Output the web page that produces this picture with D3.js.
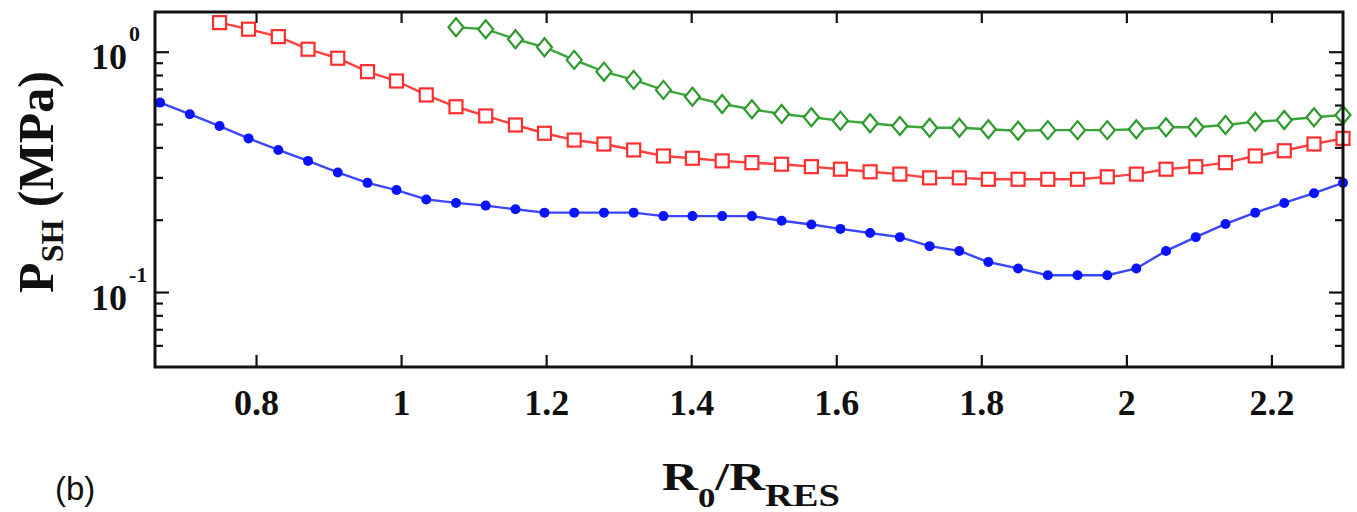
<!DOCTYPE html>
<html>
<head>
<meta charset="utf-8">
<script src="https://cdn.jsdelivr.net/npm/d3@7"></script>
<style>
  html, body { margin: 0; padding: 0; background: #fff; }
  svg { display: block; }
  .serif { font-family: "Liberation Serif", "Times New Roman", serif; font-weight: bold; fill: #111; }
</style>
</head>
<body>
<div id="chart"></div>
<script>
// R0/RES values shared by all three curves
const ratio = [0.667, 0.708, 0.749, 0.789, 0.830, 0.871, 0.912, 0.953, 0.993, 1.034,
  1.075, 1.116, 1.157, 1.197, 1.238, 1.279, 1.320, 1.361, 1.401, 1.442,
  1.483, 1.524, 1.565, 1.605, 1.646, 1.687, 1.728, 1.769, 1.809, 1.850,
  1.891, 1.932, 1.973, 2.013, 2.054, 2.095, 2.136, 2.177, 2.217, 2.258, 2.298];

// P_SH in MPa (null = not computed)
const blueP = [0.617, 0.552, 0.493, 0.438, 0.392, 0.353, 0.316, 0.286, 0.267, 0.244,
  0.236, 0.230, 0.222, 0.215, 0.215, 0.215, 0.215, 0.208, 0.208, 0.208,
  0.208, 0.199, 0.192, 0.184, 0.177, 0.170, 0.156, 0.149, 0.134, 0.126,
  0.118, 0.118, 0.118, 0.126, 0.149, 0.170, 0.193, 0.215, 0.236, 0.259, 0.286];
const redP = [null, null, 1.328, 1.247, 1.161, 1.029, 0.944, 0.830, 0.759, 0.664,
  0.593, 0.543, 0.498, 0.460, 0.431, 0.415, 0.392, 0.370, 0.362, 0.353,
  0.347, 0.342, 0.334, 0.326, 0.318, 0.311, 0.300, 0.300, 0.296, 0.296,
  0.296, 0.296, 0.303, 0.311, 0.326, 0.334, 0.347, 0.370, 0.389, 0.415, 0.438];
const greenP = [null, null, null, null, null, null, null, null, null, null,
  1.271, 1.247, 1.133, 1.049, 0.929, 0.830, 0.767, 0.697, 0.653, 0.609,
  0.579, 0.553, 0.536, 0.519, 0.506, 0.493, 0.485, 0.485, 0.478, 0.471,
  0.474, 0.474, 0.474, 0.478, 0.487, 0.487, 0.498, 0.514, 0.522, 0.536, 0.548];

const xTicks = [0.8, 1, 1.2, 1.4, 1.6, 1.8, 2, 2.2];
const xTickLabels = ['0.8', '1', '1.2', '1.4', '1.6', '1.8', '2', '2.2'];
const yMajor = [0.1, 1];
const yMajorExp = ['-1', '0'];
const yMinor = [0.06, 0.07, 0.08, 0.09, 0.2, 0.3, 0.4, 0.5, 0.6, 0.7, 0.8, 0.9];

const W = 1357, H = 512;
const box = { left: 155, right: 1343, top: 12, bottom: 367 };

const svg = d3.select('#chart').append('svg')
  .attr('width', W).attr('height', H)
  .attr('viewBox', [0, 0, W, H]);

const x = d3.scaleLinear().domain([0.66, 2.298]).range([box.left, box.right]);
const y = d3.scaleLog().domain([0.049, 1.47]).range([box.bottom, box.top]);

// -- ticks (all pointing inward, mirrored on every side) --
const tickG = svg.append('g').attr('stroke', '#111').attr('stroke-width', 2.2);
tickG.selectAll('line.xb').data(xTicks).enter().append('line')
  .attr('x1', d => x(d)).attr('x2', d => x(d))
  .attr('y1', box.bottom).attr('y2', box.bottom - 12);
tickG.selectAll('line.xt').data(xTicks).enter().append('line')
  .attr('x1', d => x(d)).attr('x2', d => x(d))
  .attr('y1', box.top).attr('y2', box.top + 11);

const yTickRows = yMajor.map(v => ({ v, len: 14 })).concat(yMinor.map(v => ({ v, len: 8 })));
tickG.selectAll('line.yl').data(yTickRows).enter().append('line')
  .attr('x1', box.left).attr('x2', d => box.left + d.len)
  .attr('y1', d => y(d.v)).attr('y2', d => y(d.v));
tickG.selectAll('line.yr').data(yTickRows).enter().append('line')
  .attr('x1', box.right).attr('x2', d => box.right - d.len)
  .attr('y1', d => y(d.v)).attr('y2', d => y(d.v));

// -- series --
const series = [
  { vals: greenP, color: '#2e9a2e', line: '#3aa53a', kind: 'diamond' },
  { vals: redP, color: '#ff2e2e', line: '#ff4040', kind: 'square' },
  { vals: blueP, color: '#0a14ff', line: '#3a46ff', kind: 'dot' },
];

const line = d3.line()
  .defined(d => d[1] != null)
  .x(d => x(d[0])).y(d => y(d[1]));

for (const s of series) {
  const pts = ratio.map((r, i) => [r, s.vals[i]]);
  svg.append('path')
    .datum(pts)
    .attr('fill', 'none')
    .attr('stroke', s.line)
    .attr('stroke-width', 2.4)
    .attr('d', line);

  const mk = svg.append('g').selectAll('g')
    .data(pts.filter(p => p[1] != null))
    .enter().append('g')
    .attr('transform', d => `translate(${x(d[0])},${y(d[1])})`);

  if (s.kind === 'dot') {
    mk.append('circle').attr('r', 5).attr('fill', s.color);
  } else if (s.kind === 'square') {
    mk.append('rect')
      .attr('x', -6.5).attr('y', -6.5).attr('width', 13).attr('height', 13)
      .attr('fill', '#fff').attr('stroke', s.color).attr('stroke-width', 2.2);
  } else {
    mk.append('path')
      .attr('d', 'M0,-9L7.5,0L0,9L-7.5,0Z')
      .attr('fill', '#fff').attr('stroke', s.color).attr('stroke-width', 2.2);
  }
}

// -- frame --
svg.append('rect')
  .attr('x', box.left).attr('y', box.top)
  .attr('width', box.right - box.left).attr('height', box.bottom - box.top)
  .attr('fill', 'none').attr('stroke', '#111').attr('stroke-width', 3);

// -- tick labels --
svg.selectAll('text.xl').data(xTicks).enter().append('text')
  .attr('class', 'serif')
  .attr('x', d => x(d)).attr('y', 415)
  .attr('text-anchor', 'middle')
  .attr('font-size', 36)
  .text((d, i) => xTickLabels[i]);

yMajor.forEach((v, i) => {
  svg.append('text').attr('class', 'serif')
    .attr('x', 127).attr('y', y(v) + 17)
    .attr('text-anchor', 'end').attr('font-size', 36)
    .text('10');
  svg.append('text').attr('class', 'serif')
    .attr('x', 129).attr('y', y(v) - 11)
    .attr('font-size', 22)
    .text(yMajorExp[i]);
});

// -- axis titles --
const yl = svg.append('text').attr('class', 'serif')
  .attr('transform', 'translate(53,182) rotate(-90)')
  .attr('text-anchor', 'middle')
  .attr('font-size', 50);
yl.append('tspan').text('P');
yl.append('tspan').attr('font-size', 32).attr('dy', 10).text('SH');
yl.append('tspan').attr('dy', -10).text(' (MPa)');

const xl = svg.append('text').attr('class', 'serif')
  .attr('x', 662).attr('y', 490)
  .attr('font-size', 40)
  .attr('textLength', 178)
  .attr('lengthAdjust', 'spacingAndGlyphs');
xl.append('tspan').text('R');
xl.append('tspan').attr('font-size', 28).attr('dy', 17).text('0');
xl.append('tspan').attr('dy', -17).text('/R');
xl.append('tspan').attr('font-size', 31).attr('dy', 16).text('RES');

svg.append('text')
  .attr('x', 55).attr('y', 500)
  .attr('font-family', '"Liberation Sans", Arial, sans-serif')
  .attr('font-size', 33)
  .attr('fill', '#111')
  .text('(b)');
</script>
</body>
</html>
